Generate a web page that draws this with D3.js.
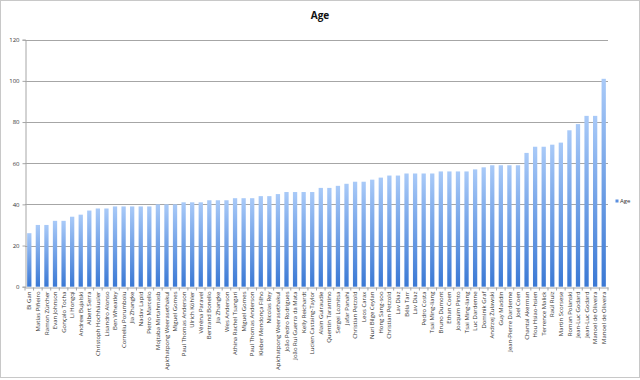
<!DOCTYPE html>
<html><head><meta charset="utf-8">
<script src="https://cdn.jsdelivr.net/npm/d3@7"></script>
<style>body{margin:0;background:#fff}svg{display:block}</style>
</head><body>
<script>
const names = ["Bi Gan","Matías Piñeiro","Ramon Zürcher","Evan Johnson","Gonçalo Tocha","Li Hongqi","Andrew Bujalski","Albert Serra","Christoph Hochhäusler","Lisandro Alonso","Ben Wheatley","Corneliu Porumboiu","Jia Zhangke","Nadav Lapid","Pietro Marcello","Mojtaba Mirtahmasb","Apichatpong Weerasethakul","Miguel Gomes","Paul Thomas Anderson","Ulrich Köhler","Véréna Paravel","Bertrand Bonello","Jia Zhangke","Wes Anderson","Athina Rachel Tsangari","Miguel Gomes","Paul Thomas Anderson","Kleber Mendonça Filho","Nicolas Rey","Apichatpong Weerasethakul","João Pedro Rodrigues","João Rui Guerra da Mata","Kelly Reichardt","Lucien Castaing-Taylor","Alain Guiraudie","Quentin Tarantino","Sergei Loznitsa","Jafar Panahi","Christian Petzold","Leos Carax","Nuri Bilge Ceylan","Hong Sang-soo","Christian Petzold","Lav Diaz","Béla Tarr","Lav Diaz","Pedro Costa","Tsai Ming-liang","Bruno Dumont","Ethan Coen","Joaquim Pinto","Tsai Ming-liang","Luc Dardenne","Dominik Graf","Andrzej Żuławski","Guy Maddin","Jean-Pierre Dardenne","Joel Coen","Chantal Akerman","Hou Hsiao-hsien","Terrence Malick","Raúl Ruiz","Martin Scorsese","Roman Polanski","Jean-Luc Godard","Jean-Luc Godard","Manoel de Oliveira","Manoel de Oliveira"];
const ages = [26,30,30,32,32,34,35,37,38,38,39,39,39,39,39,40,40,40,41,41,41,42,42,42,43,43,43,44,44,45,46,46,46,46,48,48,49,50,51,51,52,53,54,54,55,55,55,55,56,56,56,56,57,58,59,59,59,59,65,68,68,69,70,76,79,83,83,101];
const yTicks = [0,20,40,60,80,100,120];
const seriesName = "Age";
const title = "Age";

(function(){
const W = 640, H = 380;
const svg = d3.select("body").append("svg").attr("width", W).attr("height", H);
svg.append("rect").attr("x",0.5).attr("y",0.5).attr("width",W-1).attr("height",H-3)
  .attr("fill","#fff").attr("stroke","#c8c8c8");

const defs = svg.append("defs");
const grad = defs.append("linearGradient").attr("id","bg").attr("x1",0).attr("y1",0).attr("x2",0).attr("y2",1);
grad.append("stop").attr("offset","0%").attr("stop-color","#a9caf8");
grad.append("stop").attr("offset","100%").attr("stop-color","#3a78d4");

const pL = 25, pR = 608, pT = 39.7, pB = 286.7;
const x = d3.scaleBand().domain(d3.range(names.length)).range([pL, pR]).paddingInner(0.5).paddingOuter(0.25);
const y = d3.scaleLinear().domain([0,120]).range([pB, pT]);

svg.append("g").selectAll("line").data(yTicks.filter(d=>d>0)).join("line")
  .attr("x1", pL).attr("x2", pR).attr("y1", d=>Math.round(y(d))+0.5).attr("y2", d=>Math.round(y(d))+0.5)
  .attr("stroke","#a6a6a6").attr("stroke-width",1);

const ya = svg.append("g").attr("transform",`translate(${pL+0.5},0)`)
  .call(d3.axisLeft(y).tickValues(yTicks).tickSize(3).tickPadding(3));
ya.select(".domain").attr("stroke","#a6a6a6");
ya.selectAll(".tick line").attr("stroke","#a6a6a6");
ya.selectAll(".tick text").attr("font-family","Open Sans, sans-serif").attr("font-size",6).attr("fill","#333");

svg.append("g").selectAll("rect").data(ages).join("rect")
  .attr("x",(d,i)=>x(i)).attr("width",x.bandwidth())
  .attr("y",d=>y(d)).attr("height",d=>pB - y(d))
  .attr("fill","url(#bg)");

const xa = svg.append("g").attr("transform",`translate(0,${Math.round(pB)+0.5})`)
  .call(d3.axisBottom(x).tickSize(0).tickFormat(i=>names[i]));
xa.select(".domain").attr("stroke","#a6a6a6");
xa.selectAll(".tick text")
  .attr("font-family","Open Sans, sans-serif").attr("font-size",6).attr("fill","#333")
  .attr("text-anchor","end").attr("dy","0.35em")
  .attr("transform","translate(0,4) rotate(-90)").attr("x",0).attr("y",0);
svg.append("g").selectAll("line").data(d3.range(names.length+1)).join("line")
  .attr("x1",i=>pL + i*x.step()).attr("x2",i=>pL + i*x.step())
  .attr("y1",Math.round(pB)+0.5).attr("y2",Math.round(pB)+3.5)
  .attr("stroke","#a6a6a6");

svg.append("text").attr("x",320).attr("y",19).attr("text-anchor","middle")
  .attr("font-family","Open Sans, sans-serif").attr("font-weight","bold").attr("font-size",10).attr("fill","#111")
  .text(title);

svg.append("rect").attr("x",615.5).attr("y",199.5).attr("width",3).attr("height",3).attr("fill","#5b8fe0");
svg.append("text").attr("x",620).attr("y",203).attr("font-family","Open Sans, sans-serif")
  .attr("font-size",6).attr("fill","#333").text(seriesName);
})();
</script>
</body></html>
